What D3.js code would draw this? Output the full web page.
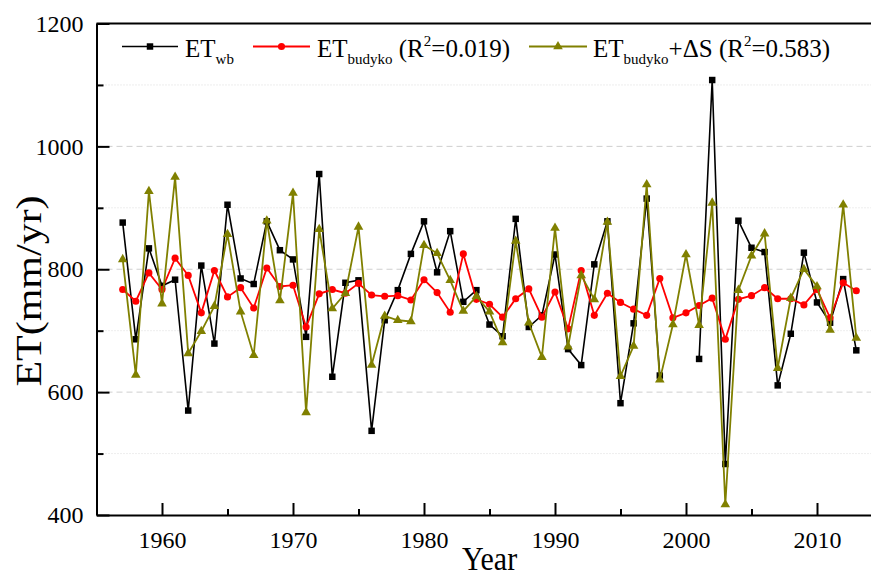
<!DOCTYPE html>
<html>
<head>
<meta charset="utf-8">
<script src="https://cdn.jsdelivr.net/npm/d3@7"></script>
<style>
  body { margin: 0; background: #fff; }
  text { font-family: "Liberation Serif", "Times New Roman", serif; }
</style>
</head>
<body>
<svg id="drawing_region"></svg>
<script>
const years = [1957,1958,1959,1960,1961,1962,1963,1964,1965,1966,1967,1968,1969,1970,
  1971,1972,1973,1974,1975,1976,1977,1978,1979,1980,1981,1982,1983,1984,1985,
  1986,1987,1988,1989,1990,1991,1992,1993,1994,1995,1996,1997,1998,1999,2000,
  2001,2002,2003,2004,2005,2006,2007,2008,2009,2010,2011,2012,2013];

const etWb = [876,686,834,773,783,570,806,679,905,785,776,878,831,816,
  690,955,625,778,782,537,717,766,825,878,795,862,747,766,710,
  691,882,706,725,824,670,644,808,878,582,712,915,627,null,null,
  654,1108,483,879,835,828,611,695,827,746,713,784,668];

const etBudyko = [767,748,794,767,818,790,729,798,755,770,737,802,772,774,
  706,760,767,761,777,758,756,757,750,783,762,730,825,751,743,
  722,752,768,722,763,703,798,725,761,746,735,725,785,721,729,
  741,753,686,751,757,770,752,752,742,767,721,778,765];

const etBudykoDS = [816,628,927,744,950,663,699,740,857,731,660,879,749,924,
  567,865,736,761,869,644,724,717,715,839,826,782,732,756,731,
  681,846,713,657,867,674,790,751,877,626,675,938,620,710,824,
  709,908,417,766,822,858,639,753,800,772,701,905,688];

const xMajor = [1960,1970,1980,1990,2000,2010];
const xMinor = [1965,1975,1985,1995,2005];
const yMajor = [400,600,800,1000,1200];
const yMinor = [500,700,900,1100];

const width = 871, height = 576;
const svg = d3.select('#drawing_region')
    .attr('width', width)
    .attr('height', height);

const x = d3.scaleLinear().domain([1955, 2015]).range([96.5, 882.5]);
const y = d3.scaleLinear().domain([400, 1200]).range([515, 23.5]);

// grid lines
svg.append('g').selectAll('line')
    .data(yMajor.filter(v => v > 400 && v < 1200))
    .enter().append('line')
    .attr('x1', x(1955)).attr('x2', width)
    .attr('y1', d => y(d)).attr('y2', d => y(d))
    .attr('stroke', '#cfcfcf').attr('stroke-width', 1)
    .attr('stroke-dasharray', '6,4');

svg.append('g').selectAll('line')
    .data(yMinor)
    .enter().append('line')
    .attr('x1', x(1955)).attr('x2', width)
    .attr('y1', d => y(d)).attr('y2', d => y(d))
    .attr('stroke', '#dcdcdc').attr('stroke-width', 1)
    .attr('stroke-dasharray', '1,2');

// top frame
svg.append('line')
    .attr('x1', x(1955)).attr('x2', width)
    .attr('y1', y(1200)).attr('y2', y(1200))
    .attr('stroke', '#000').attr('stroke-width', 2);

// axes
svg.append('g')
    .attr('transform', `translate(0, ${y(400)})`)
    .call(d3.axisBottom(x).tickValues(xMajor).tickFormat(d3.format('d'))
        .tickSizeInner(-12).tickSizeOuter(0).tickPadding(16));

svg.append('g')
    .attr('transform', `translate(0, ${y(400)})`)
    .call(d3.axisBottom(x).tickValues(xMinor).tickFormat('')
        .tickSizeInner(-6).tickSizeOuter(0))
    .select('.domain').remove();

svg.append('g')
    .attr('transform', `translate(${x(1955)}, 0)`)
    .call(d3.axisLeft(y).tickValues(yMajor).tickFormat(d3.format('d'))
        .tickSizeInner(-13).tickSizeOuter(0).tickPadding(13));

svg.append('g')
    .attr('transform', `translate(${x(1955)}, 0)`)
    .call(d3.axisLeft(y).tickValues(yMinor).tickFormat('')
        .tickSizeInner(-7).tickSizeOuter(0))
    .select('.domain').remove();

svg.selectAll('.domain').attr('stroke-width', 2).attr('stroke', '#000');
svg.selectAll('.tick line').attr('stroke-width', 2).attr('stroke', '#000');
svg.selectAll('.tick text')
    .style('font-family', '"Liberation Serif", serif')
    .style('font-size', '24px')
    .attr('fill', '#000');

// axis titles
svg.append('text')
    .attr('transform', `translate(${(x(1955) + x(2015)) / 2}, 570) scale(1, 1.1)`)
    .attr('text-anchor', 'middle')
    .style('font-size', '30px')
    .text('Year');

svg.append('text')
    .attr('transform', 'translate(41, 291) rotate(-90) scale(1.2, 1)')
    .attr('text-anchor', 'middle')
    .style('font-size', '35px')
    .text('ET(mm/yr)');

// series
const series = [
    { name: 'wb', values: etWb, color: '#000000', width: 1.6, marker: 'square' },
    { name: 'budyko', values: etBudyko, color: '#ff0000', width: 1.8, marker: 'circle' },
    { name: 'budykoDS', values: etBudykoDS, color: '#808000', width: 1.8, marker: 'triangle' }
];

const symbolOf = {
    square: d3.symbol().type(d3.symbolSquare).size(42),
    circle: d3.symbol().type(d3.symbolCircle).size(40),
    triangle: d3.symbol().type(d3.symbolTriangle).size(40)
};

const line = d3.line()
    .defined(d => d.v !== null)
    .x(d => x(d.year))
    .y(d => y(d.v));

series.forEach(s => {
    const pts = years.map((yr, i) => ({ year: yr, v: s.values[i] }));
    const g = svg.append('g');
    g.append('path')
        .datum(pts)
        .attr('d', line)
        .attr('fill', 'none')
        .attr('stroke', s.color)
        .attr('stroke-width', s.width)
        .attr('stroke-linejoin', 'miter');
    g.selectAll('path.mk')
        .data(pts.filter(d => d.v !== null))
        .enter().append('path')
        .attr('class', 'mk')
        .attr('d', symbolOf[s.marker])
        .attr('transform', d => `translate(${x(d.year)}, ${y(d.v)})`)
        .attr('fill', s.color);
});

// legend
const legend = [
    { s: series[0], x1: 122, x2: 178, tx: 185, main: 'ET', sub: 'wb', tail: '' , sup: null },
    { s: series[1], x1: 253, x2: 310, tx: 317, main: 'ET', sub: 'budyko', tail: ' (R', sup: '2', end: '=0.019)' },
    { s: series[2], x1: 529, x2: 587, tx: 593, main: 'ET', sub: 'budyko', tail: '+ΔS (R', sup: '2', end: '=0.583)' }
];
const ly = 46.5;
legend.forEach(l => {
    svg.append('line')
        .attr('x1', l.x1).attr('x2', l.x2)
        .attr('y1', ly).attr('y2', ly)
        .attr('stroke', l.s.color).attr('stroke-width', l.s.width);
    svg.append('path')
        .attr('d', symbolOf[l.s.marker])
        .attr('transform', `translate(${(l.x1 + l.x2) / 2}, ${ly})`)
        .attr('fill', l.s.color);
    const t = svg.append('text')
        .attr('x', l.tx).attr('y', 57)
        .style('font-size', '25px');
    t.append('tspan').text(l.main);
    t.append('tspan').attr('dy', 7).style('font-size', '15px').text(l.sub);
    if (l.sup) {
        t.append('tspan').attr('dy', -7).text(l.tail);
        t.append('tspan').attr('dy', -11).style('font-size', '15px').text(l.sup);
        t.append('tspan').attr('dy', 11).text(l.end);
    }
});
</script>
</body>
</html>
